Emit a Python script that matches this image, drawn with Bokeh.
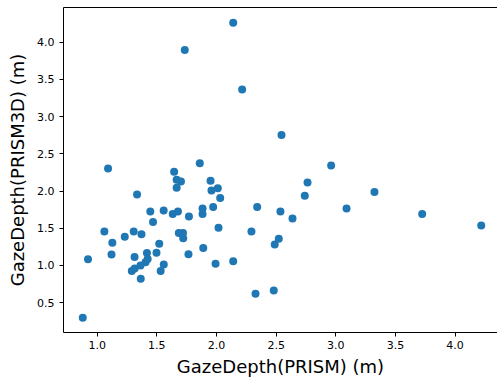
from bokeh.plotting import figure
from bokeh.models import Range1d, FixedTicker, PrintfTickFormatter, LinearAxis
from bokeh.embed import file_html
from bokeh.resources import INLINE

# GazeDepth(PRISM) (m) vs GazeDepth(PRISM3D) (m)
gaze_prism = [
    0.879, 0.923, 1.060, 1.091, 1.127, 1.120, 1.231, 1.306, 1.371, 1.334,
    1.313, 1.290, 1.314, 1.363, 1.405, 1.423, 1.417, 1.365, 1.497, 1.520,
    1.532, 1.558, 1.468, 1.445, 1.557, 1.633, 1.677, 1.645, 1.666, 1.702,
    1.666, 1.684, 1.719, 1.721, 1.765, 1.769, 1.860, 1.883, 1.883, 1.889,
    1.950, 1.958, 2.011, 2.031, 1.972, 1.992, 2.017, 2.140, 2.293, 2.341,
    2.327, 2.480, 2.488, 2.522, 2.536, 2.545, 2.637, 2.740, 2.763, 2.961,
    3.090, 3.324, 3.724, 4.219, 2.140, 1.734, 2.215,
]
gaze_prism3d = [
    0.299, 1.082, 1.457, 2.301, 1.304, 1.149, 1.387, 1.457, 1.420, 1.953,
    1.115, 0.925, 0.959, 0.999, 1.042, 1.086, 1.169, 0.821, 1.170, 1.293,
    0.925, 1.012, 1.585, 1.725, 1.739, 1.692, 1.724, 2.257, 2.150, 2.127,
    2.043, 1.436, 1.436, 1.364, 1.150, 1.657, 2.373, 1.766, 1.692, 1.233,
    2.136, 2.006, 2.036, 1.905, 1.784, 1.022, 1.505, 1.056, 1.457, 1.784,
    0.620, 0.664, 1.280, 1.360, 1.725, 2.752, 1.632, 1.935, 2.113, 2.341,
    1.766, 1.985, 1.691, 1.538, 4.260, 3.893, 3.363,
]
x_ticks = [1.0, 1.5, 2.0, 2.5, 3.0, 3.5, 4.0]
y_ticks = [0.5, 1.0, 1.5, 2.0, 2.5, 3.0, 3.5, 4.0]
x_label = "GazeDepth(PRISM) (m)"
y_label = "GazeDepth(PRISM3D) (m)"

FONT = "DejaVu Sans"

p = figure(width=497, height=379, output_backend="svg", toolbar_location=None,
           x_range=Range1d(0.7175, 4.3554), y_range=Range1d(0.100, 4.464),
           min_border_left=63, min_border_right=0, min_border_top=7,
           min_border_bottom=46)
p.outline_line_color = None
p.background_fill_color = "white"
p.border_fill_color = "white"
p.xgrid.visible = False
p.ygrid.visible = False

p.scatter(gaze_prism, gaze_prism3d, size=8, color="#1f77b4", line_color=None)

for ax in (p.xaxis[0], p.yaxis[0]):
    ax.axis_line_color = "black"
    ax.axis_line_width = 1
    ax.major_tick_line_color = "black"
    ax.major_tick_in = 0
    ax.major_tick_out = 4
    ax.minor_tick_line_color = None
    ax.major_label_text_font = FONT
    ax.major_label_text_font_size = "11px"
    ax.major_label_text_color = "black"
    ax.axis_label_text_font = FONT
    ax.axis_label_text_font_size = "18px"
    ax.axis_label_text_font_style = "normal"
    ax.axis_label_text_color = "black"
    ax.formatter = PrintfTickFormatter(format="%.1f")

p.xaxis.ticker = FixedTicker(ticks=x_ticks)
p.yaxis.ticker = FixedTicker(ticks=y_ticks)
p.xaxis.axis_label = x_label
p.yaxis.axis_label = y_label
p.xaxis.major_label_standoff = 4
p.xaxis.axis_label_standoff = 4
p.yaxis.major_label_standoff = 5
p.yaxis.axis_label_standoff = 6

# top spine only (no ticks, no labels)
top = LinearAxis(ticker=FixedTicker(ticks=[]), minor_tick_line_color=None,
                 major_tick_line_color=None, major_tick_out=0, major_tick_in=0,
                 major_label_standoff=0, axis_line_color="black")
p.add_layout(top, "above")

open("out.html", "w").write(file_html(p, INLINE))
